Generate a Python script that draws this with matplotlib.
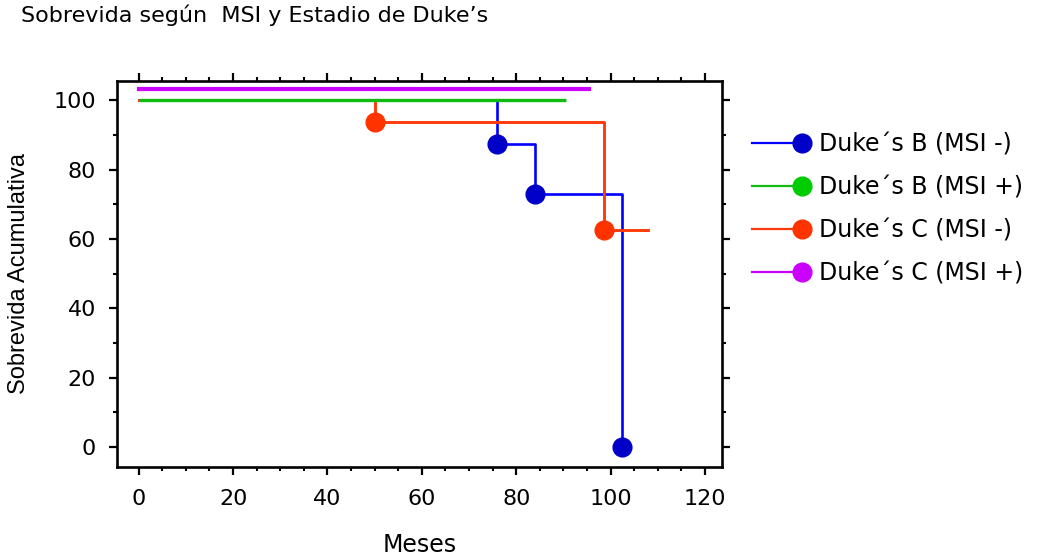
import matplotlib
matplotlib.use("Agg")
import matplotlib.pyplot as plt
from matplotlib.lines import Line2D
from matplotlib.legend_handler import HandlerLine2D
from matplotlib.ticker import MultipleLocator

# ---- data ----
title = "Sobrevida según  MSI y Estadio de Duke’s"
xlabel = "Meses"
ylabel = "Sobrevida Acumulativa"
labels = ["Duke´s B (MSI -)", "Duke´s B (MSI +)", "Duke´s C (MSI -)", "Duke´s C (MSI +)"]

b_neg_t = [0, 76, 84, 102.5]
b_neg_s = [100, 87.5, 72.9, 0]
b_neg_evt_t = [76, 84, 102.5]
b_neg_evt_s = [87.5, 72.9, 0]

b_pos_t = [0, 90.5]
b_pos_s = [100, 100]

c_neg_t = [0, 50, 98.5, 108]
c_neg_s = [100, 93.75, 62.5, 62.5]
c_neg_evt_t = [50, 98.5]
c_neg_evt_s = [93.75, 62.5]

c_pos_t = [0, 95.5]
c_pos_s = [100, 100]

xticks = [0, 20, 40, 60, 80, 100, 120]
yticks = [0, 20, 40, 60, 80, 100]

# ---- styles ----
c_blue, c_blue_m = "#0000ff", "#0000c8"
c_green, c_green_m = "#11bb11", "#00cc00"
c_red, c_red_m = "#ff3a0a", "#ff3300"
c_purple, c_purple_m = "#cc00ff", "#cc00ff"
purple_offset = 3.2
ms = 13.5

fig = plt.figure(figsize=(10.41, 5.58), dpi=100)
ax = fig.add_axes([117 / 1041, 1 - 467 / 558, (722 - 117) / 1041, (467 - 81) / 558])

ax.step(b_neg_t, b_neg_s, where="post", color=c_blue, lw=1.9, zorder=2)
ax.plot(b_neg_evt_t, b_neg_evt_s, "o", color=c_blue_m, ms=ms, zorder=5)
ax.step(c_neg_t, c_neg_s, where="post", color=c_red, lw=2.1, zorder=3)
ax.plot(c_neg_evt_t, c_neg_evt_s, "o", color=c_red_m, ms=ms, zorder=5)
ax.step(b_pos_t, b_pos_s, where="post", color=c_green, lw=2.4, zorder=4, solid_capstyle="butt")
ax.step(c_pos_t, [v + purple_offset for v in c_pos_s], where="post", color=c_purple, lw=3.0,
        zorder=4, solid_capstyle="projecting")

ax.set_xlim(-4.6, 123.6)
ax.set_ylim(-5.8, 105.6)
ax.set_xticks(xticks)
ax.set_yticks(yticks)
ax.xaxis.set_minor_locator(MultipleLocator(5))
ax.yaxis.set_minor_locator(MultipleLocator(10))
ax.tick_params(axis="both", which="major", direction="out", length=6, width=1.6,
               labelsize=16, top=True, right=True, color="black")
ax.tick_params(axis="both", which="minor", direction="out", length=3, width=1.5,
               top=True, right=True)
ax.tick_params(axis="x", which="major", pad=10)
ax.tick_params(axis="y", which="major", pad=9)
for s in ax.spines.values():
    s.set_linewidth(1.9)

ax.set_xlabel(xlabel, fontsize=17, labelpad=17)
ax.set_ylabel(ylabel, fontsize=17, family="Liberation Sans", labelpad=17)

fig.text(21 / 1041, 1 - 15 / 558, title, fontsize=16, va="center", ha="left")


class EndMarkerHandler(HandlerLine2D):
    def create_artists(self, legend, orig_handle, xdescent, ydescent, width, height,
                       fontsize, trans):
        y = height / 2 - ydescent
        x0, x1 = -xdescent, width - xdescent
        line = Line2D([x0, x1], [y, y], color=orig_handle.get_color(), lw=1.6)
        mk = Line2D([x1], [y], marker="o", ms=orig_handle.get_markersize(), linestyle="none",
                    color=orig_handle.get_markerfacecolor())
        line.set_transform(trans)
        mk.set_transform(trans)
        return [line, mk]


handles = [
    Line2D([], [], color=c_blue, marker="o", ms=ms, markerfacecolor=c_blue_m),
    Line2D([], [], color=c_green, marker="o", ms=ms, markerfacecolor=c_green_m),
    Line2D([], [], color=c_red, marker="o", ms=ms, markerfacecolor=c_red_m),
    Line2D([], [], color=c_purple, marker="o", ms=ms, markerfacecolor=c_purple_m),
]
fig.legend(handles, labels, loc="center left", bbox_to_anchor=(752 / 1041, 1 - 209 / 558),
           frameon=False, fontsize=17, handlelength=2.1, handletextpad=0.75,
           labelspacing=0.8, borderpad=0, borderaxespad=0,
           handler_map={Line2D: EndMarkerHandler()})

fig.savefig("out.png", dpi=100)
